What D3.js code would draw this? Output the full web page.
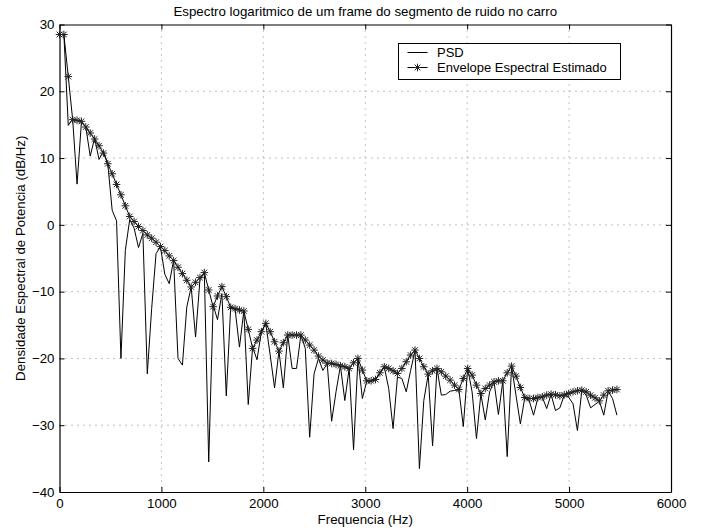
<!DOCTYPE html>
<html>
<head>
<meta charset="utf-8">
<script src="https://cdn.jsdelivr.net/npm/d3@7"></script>
<style>
  body { margin: 0; background: #fff; }
  svg { font-family: "Liberation Sans", Arial, Helvetica, sans-serif; }
</style>
</head>
<body>
<div id="wrapper"></div>
<script>
// Spectrum of one noise frame (fs = 11025 Hz, 256-point FFT, bins 0..127)
const binHz = 11025 / 256;

const psd = [
  28.5, 28.5, 14.9, 15.8, 6.1, 15.4, 14.6, 10.3, 13.0, 9.8,
  11.0, 9.2, 2.2, 0.6, -20.0, -3.8, 0.8, -0.5, -3.4, -1.3,
  -22.3, -12.5, -4.3, -3.3, -7.4, -8.8, -5.3, -20.0, -21.0, -12.3,
  -9.3, -16.8, -8.2, -7.2, -35.5, -12.0, -14.2, -10.3, -25.6, -12.4,
  -12.6, -18.3, -12.9, -26.9, -18.3, -20.2, -16.0, -14.8, -19.5, -24.4,
  -18.9, -24.4, -16.5, -21.5, -21.5, -16.5, -18.5, -31.8, -22.3, -20.0,
  -21.8, -20.8, -29.4, -25.0, -21.1, -26.3, -21.5, -33.7, -20.0, -26.0,
  -23.4, -23.4, -23.2, -22.2, -21.3, -24.5, -30.5, -22.8, -23.0, -25.0,
  -21.8, -18.8, -36.5, -26.3, -22.4, -33.1, -21.5, -25.5, -25.4, -24.9,
  -24.8, -24.7, -30.2, -21.5, -25.0, -32.0, -25.3, -29.2, -25.0, -23.5,
  -28.4, -23.4, -34.7, -21.2, -25.5, -29.8, -25.9, -26.3, -28.5, -25.9,
  -25.8, -27.5, -25.4, -27.8, -27.4, -25.5, -25.8, -26.8, -30.8, -24.8,
  -25.5, -27.4, -26.9, -26.4, -28.5, -24.9, -26.0, -28.5
];

const envelope = [
  28.5, 28.5, 22.2, 15.75, 15.65, 15.5, 14.65, 13.75, 12.85, 11.85,
  10.75, 9.15, 7.65, 6.05, 4.5, 2.85, 1.25, 0.5, -0.25, -0.85,
  -1.5, -2.0, -2.6, -3.25, -3.85, -4.65, -5.35, -6.35, -7.3, -8.3,
  -9.3, -8.6, -7.9, -7.15, -9.75, -12.25, -10.65, -9.25, -10.75, -12.35,
  -12.55, -12.75, -12.9, -15.65, -18.5, -17.25, -16.0, -14.75, -16.0, -17.5,
  -18.9, -17.65, -16.5, -16.5, -16.5, -16.5, -17.25, -18.0, -18.75, -19.65,
  -20.25, -20.7, -20.75, -20.9, -21.1, -21.25, -21.5, -20.65, -20.0, -21.75,
  -23.35, -23.35, -23.15, -22.15, -21.25, -21.5, -21.85, -22.25, -21.5, -20.5,
  -19.5, -18.75, -20.0, -21.25, -22.35, -21.85, -21.5, -22.0, -22.65, -23.25,
  -24.0, -24.65, -23.0, -21.5, -22.5, -24.0, -25.25, -24.5, -24.0, -23.5,
  -23.35, -23.35, -22.15, -21.15, -22.65, -24.35, -25.85, -26.0, -26.0, -25.85,
  -25.75, -25.5, -25.35, -25.45, -25.6, -25.45, -25.25, -25.0, -24.85, -24.75,
  -25.0, -25.5, -25.9, -26.35, -25.5, -24.85, -24.75, -24.65
];

const xTicks = [0, 1000, 2000, 3000, 4000, 5000, 6000];
const yTicks = [-40, -30, -20, -10, 0, 10, 20, 30];

const titleText = "Espectro logaritmico de um frame do segmento de ruido no carro";
const xLabelText = "Frequencia (Hz)";
const yLabelText = "Densidade Espectral de Potencia (dB/Hz)";
const legendLabels = ["PSD", "Envelope Espectral Estimado"];

const fontSize = "13.3px";

function drawChart() {
    const dimensions = {
        width: 706,
        height: 530,
        margin: { top: 24.5, right: 35, bottom: 38, left: 59.5 }
    };
    dimensions.boundedWidth = dimensions.width - dimensions.margin.left - dimensions.margin.right;
    dimensions.boundedHeight = dimensions.height - dimensions.margin.top - dimensions.margin.bottom;

    const dataset = psd.map((v, i) => ({ f: i * binHz, psd: v, env: envelope[i] }));

    const wrapper = d3.select("#wrapper")
        .append("svg")
        .attr("width", dimensions.width)
        .attr("height", dimensions.height);

    const bounds = wrapper.append("g")
        .attr("transform", `translate(${dimensions.margin.left}, ${dimensions.margin.top})`);

    const xScale = d3.scaleLinear()
        .domain([0, 6000])
        .range([0, dimensions.boundedWidth]);

    const yScale = d3.scaleLinear()
        .domain([-40, 30])
        .range([dimensions.boundedHeight, 0]);

    // grid (dotted)
    const grid = bounds.append("g").attr("class", "grid");
    grid.selectAll(".vgrid")
        .data(xTicks.slice(1, -1))
        .enter().append("line")
        .attr("x1", d => xScale(d)).attr("x2", d => xScale(d))
        .attr("y1", 0).attr("y2", dimensions.boundedHeight)
        .attr("stroke", "#888").attr("stroke-width", 1)
        .attr("stroke-dasharray", "1,5");
    grid.selectAll(".hgrid")
        .data(yTicks.slice(1, -1))
        .enter().append("line")
        .attr("x1", 0).attr("x2", dimensions.boundedWidth)
        .attr("y1", d => yScale(d)).attr("y2", d => yScale(d))
        .attr("stroke", "#888").attr("stroke-width", 1)
        .attr("stroke-dasharray", "1,5");

    // axes with inward ticks on all four sides
    const tickLen = 5;
    const xAxisBottom = bounds.append("g")
        .attr("transform", `translate(0, ${dimensions.boundedHeight})`)
        .call(d3.axisBottom(xScale).tickValues(xTicks).tickSizeInner(-tickLen).tickSizeOuter(0)
            .tickPadding(7).tickFormat(d3.format("d")));
    const xAxisTop = bounds.append("g")
        .call(d3.axisTop(xScale).tickValues(xTicks).tickSizeInner(-tickLen).tickSizeOuter(0).tickFormat(""));
    const yAxisLeft = bounds.append("g")
        .call(d3.axisLeft(yScale).tickValues(yTicks).tickSizeInner(-tickLen).tickSizeOuter(0).tickPadding(5)
            .tickFormat(d => d < 0 ? "\u2212" + Math.abs(d) : d));
    const yAxisRight = bounds.append("g")
        .attr("transform", `translate(${dimensions.boundedWidth}, 0)`)
        .call(d3.axisRight(yScale).tickValues(yTicks).tickSizeInner(-tickLen).tickSizeOuter(0).tickFormat(""));

    [xAxisBottom, xAxisTop, yAxisLeft, yAxisRight].forEach(ax => {
        ax.select(".domain").attr("stroke", "#000").attr("stroke-width", 1.2);
        ax.selectAll(".tick line").attr("stroke", "#000");
        ax.selectAll(".tick text").attr("fill", "#000").style("font-size", fontSize);
    });

    // data
    const psdLine = d3.line()
        .x(d => xScale(d.f))
        .y(d => yScale(d.psd));
    const envLine = d3.line()
        .x(d => xScale(d.f))
        .y(d => yScale(d.env));

    bounds.append("path")
        .attr("d", psdLine(dataset))
        .attr("fill", "none")
        .attr("stroke", "#000")
        .attr("stroke-width", 1);

    bounds.append("path")
        .attr("d", envLine(dataset))
        .attr("fill", "none")
        .attr("stroke", "#000")
        .attr("stroke-width", 1);

    const r = 3.8;
    const starPath = `M${-r},0H${r}M0,${-r}V${r}M${-r*0.75},${-r*0.75}L${r*0.75},${r*0.75}M${-r*0.75},${r*0.75}L${r*0.75},${-r*0.75}`;

    bounds.selectAll(".star")
        .data(dataset)
        .enter().append("path")
        .attr("class", "star")
        .attr("transform", d => `translate(${xScale(d.f)}, ${yScale(d.env)})`)
        .attr("d", starPath)
        .attr("fill", "none")
        .attr("stroke", "#222")
        .attr("stroke-width", 1);

    // title and labels
    wrapper.append("text")
        .attr("x", dimensions.margin.left + dimensions.boundedWidth / 2)
        .attr("y", 16)
        .attr("text-anchor", "middle")
        .style("font-size", fontSize)
        .text(titleText);

    wrapper.append("text")
        .attr("x", dimensions.margin.left + dimensions.boundedWidth / 2)
        .attr("y", 524)
        .attr("text-anchor", "middle")
        .style("font-size", fontSize)
        .text(xLabelText);

    wrapper.append("text")
        .attr("transform", `translate(25, ${dimensions.margin.top + dimensions.boundedHeight / 2}) rotate(-90)`)
        .attr("text-anchor", "middle")
        .style("font-size", fontSize)
        .text(yLabelText);

    // legend
    const legend = wrapper.append("g")
        .attr("transform", "translate(398.5, 43.5)");
    legend.append("rect")
        .attr("width", 222)
        .attr("height", 36)
        .attr("fill", "#fff")
        .attr("stroke", "#000")
        .attr("stroke-width", 1);

    const legendItems = legend.selectAll(".legend-item")
        .data(legendLabels)
        .enter().append("g")
        .attr("class", "legend-item")
        .attr("transform", (d, i) => `translate(0, ${9 + i * 15})`);

    legendItems.append("line")
        .attr("x1", 9).attr("x2", 29)
        .attr("y1", 0).attr("y2", 0)
        .attr("stroke", "#000").attr("stroke-width", 1);

    legendItems.filter((d, i) => i === 1).append("path")
        .attr("transform", "translate(19, 0)")
        .attr("d", starPath)
        .attr("fill", "none")
        .attr("stroke", "#222")
        .attr("stroke-width", 1);

    legendItems.append("text")
        .attr("x", 38.5)
        .attr("y", 4.6)
        .style("font-size", "13px")
        .text(d => d);
}

drawChart();
</script>
</body>
</html>
